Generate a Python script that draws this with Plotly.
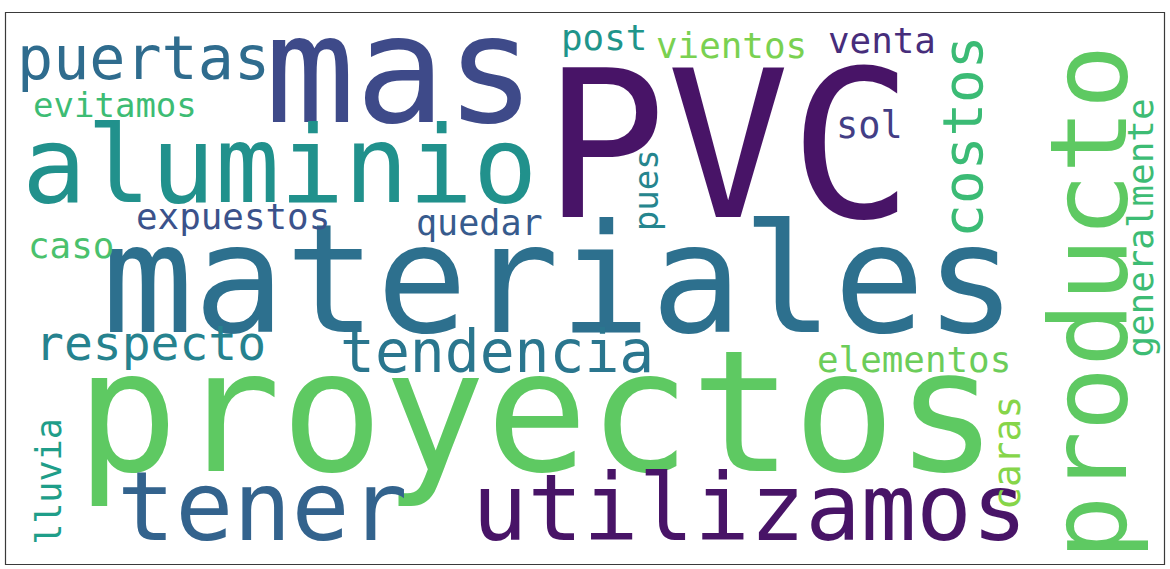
import plotly.graph_objects as go

# ---- data: words and their relative weights (PVC = 1) ----
words = ["PVC", "proyectos", "materiales", "mas", "aluminio", "producto",
         "tener", "utilizamos", "puertas", "tendencia", "costos", "respecto",
         "caras", "sol", "vientos", "venta", "post", "expuestos", "quedar",
         "caso", "elementos", "generalmente", "evitamos", "pues", "lluvia"]
weights = [1.0, 0.83, 0.741, 0.731, 0.522, 0.522,
           0.471, 0.45, 0.293, 0.283, 0.273, 0.234,
           0.185, 0.18, 0.175, 0.175, 0.175, 0.175, 0.171,
           0.175, 0.175, 0.175, 0.166, 0.166, 0.171]

# ---- styles ----
colors = ["#481467", "#5ec962", "#2d708e", "#3e4a89", "#21918c", "#5ec962",
          "#33638d", "#481467", "#2f6c8e", "#2a768e", "#3bbb75", "#26828e",
          "#86d549", "#433e85", "#7ad151", "#472d7b", "#1f958b", "#3b528b", "#375b8d",
          "#4ac16d", "#6ccd5a", "#3dbc74", "#3dbc74", "#25858e", "#1f9e89"]

# ---- placement (pixel layout): horizontal -> (center x, baseline y, 0)
#                                 vertical   -> (baseline x, center y, 90)
placement = {
    "PVC": (728, 217, 0),
    "proyectos": (537, 471, 0),
    "materiales": (559, 332, 0),
    "mas": (400, 122, 0),
    "aluminio": (279, 202, 0),
    "producto": (1126, 302, 90),
    "tener": (262, 540, 0),
    "utilizamos": (749, 540, 0),
    "puertas": (143, 79, 0),
    "tendencia": (497, 372, 0),
    "costos": (981, 137, 90),
    "respecto": (150, 360, 0),
    "caras": (1020, 453, 90),
    "sol": (869, 138, 0),
    "vientos": (731, 58, 0),
    "venta": (882, 53, 0),
    "post": (604, 50, 0),
    "expuestos": (233, 229, 0),
    "quedar": (479, 235, 0),
    "caso": (71, 258, 0),
    "elementos": (914, 372, 0),
    "generalmente": (1152, 228, 90),
    "evitamos": (115, 117, 0),
    "pues": (658, 190, 90),
    "lluvia": (60, 481, 90),
}

MAX_SIZE = 205
ASC_OFF = 0.346  # distance from baseline to text-box centre, in em

W, H = 1170, 569
fig = go.Figure()
fig.add_trace(go.Scatter(x=[0, W], y=[0, H], mode="markers",
                         marker=dict(opacity=0), hoverinfo="skip", showlegend=False))

annotations = []
for w, wt, c in zip(words, weights, colors):
    s = wt * MAX_SIZE
    a, b, rot = placement[w]
    if rot == 0:
        x, y, ang = a, b - ASC_OFF * s, 0
    else:
        x, y, ang = a - ASC_OFF * s, b, -90
    annotations.append(dict(
        x=x, y=y, xref="x", yref="y", text=w, showarrow=False,
        xanchor="center", yanchor="middle", textangle=ang,
        font=dict(family="DejaVu Sans Mono", size=s, color=c),
        borderpad=0,
    ))

fig.update_layout(
    width=W, height=H,
    margin=dict(l=0, r=0, t=0, b=0),
    paper_bgcolor="white", plot_bgcolor="white",
    xaxis=dict(range=[0, W], visible=False, fixedrange=True),
    yaxis=dict(range=[H, 0], visible=False, fixedrange=True),
    annotations=annotations,
    shapes=[dict(type="rect", xref="x", yref="y", x0=5.5, y0=12.5, x1=1164.5, y1=564.5,
                 line=dict(color="#3a3a3a", width=1.2), fillcolor="rgba(0,0,0,0)")],
    showlegend=False,
)

fig.write_html("out.html", config={"displayModeBar": False},
               post_script="document.body.style.margin='0';document.body.style.overflow='hidden';")
